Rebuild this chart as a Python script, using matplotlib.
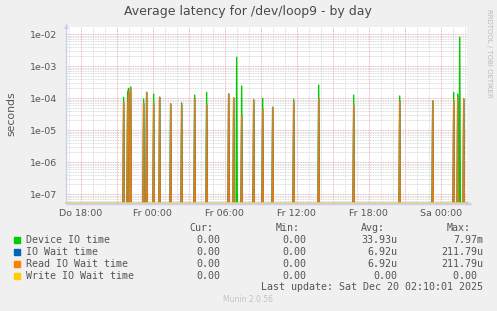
import matplotlib
matplotlib.use('Agg')
import matplotlib.pyplot as plt
from matplotlib.patches import Rectangle
import numpy as np

# ---------------- data ----------------
spike_times = ["Do 21:35", "Do 21:55", "Do 22:00", "Do 22:10", "Do 23:15", "Do 23:30",
               "Fr 00:05", "Fr 00:35", "Fr 01:30", "Fr 02:25", "Fr 03:30", "Fr 04:30",
               "Fr 06:20", "Fr 06:45", "Fr 07:00", "Fr 07:25", "Fr 08:25", "Fr 09:10",
               "Fr 10:00", "Fr 11:45", "Fr 13:50", "Fr 16:45", "Fr 20:35", "Fr 23:20",
               "Sa 01:05", "Sa 01:25", "Sa 01:35", "Sa 01:55"]
device_io = [1.05e-4, 1.44e-4, 2.0e-4, 2.2e-4, 9.3e-5, 1.5e-4,
             1.33e-4, 1.05e-4, 6.5e-5, 7.1e-5, 1.24e-4, 1.5e-4,
             1.33e-4, 1.0e-4, 1.87e-3, 2.37e-4, 8.7e-5, 9.8e-5,
             5.1e-5, 9.1e-5, 2.55e-4, 1.24e-4, 1.16e-4, 8.1e-5,
             1.5e-4, 1.33e-4, 7.97e-3, 9.3e-5]
read_io = [7.1e-5, 6.0e-5, 1.5e-4, 2.12e-4, 6.8e-5, 1.5e-4,
           6.8e-5, 1.05e-4, 6.5e-5, 6.0e-5, 9.3e-5, 6.0e-5,
           1.33e-4, 1.0e-4, 0.0, 2.9e-5, 8.7e-5, 4.4e-5,
           5.1e-5, 7.7e-5, 9.8e-5, 6.0e-5, 8.1e-5, 8.1e-5,
           7.7e-5, 1.1e-4, 0.0, 9.3e-5]
io_wait = list(read_io)
write_io = [0.0] * len(spike_times)

x_tick_labels = ["Do 18:00", "Fr 00:00", "Fr 06:00", "Fr 12:00", "Fr 18:00", "Sa 00:00"]
y_tick_labels = ["1e-07", "1e-06", "1e-05", "1e-04", "1e-03", "1e-02"]

legend_names = ["Device IO time", "IO Wait time", "Read IO Wait time", "Write IO Wait time"]
legend_colors = ["#00CC00", "#0066B3", "#FF8000", "#FFCC00"]
cur_vals = ["0.00", "0.00", "0.00", "0.00"]
min_vals = ["0.00", "0.00", "0.00", "0.00"]
avg_vals = ["33.93u", "6.92u", "6.92u", "0.00"]
max_vals = ["7.97m", "211.79u", "211.79u", "0.00 "]

# ---------------- helpers ----------------
DAY = {"Do": -24.0, "Fr": 0.0, "Sa": 24.0}
def to_hours(s):
    d, hm = s.split()
    h, m = hm.split(":")
    return DAY[d] + int(h) + int(m) / 60.0

W, H = 497, 311
def fx(x): return x / W
def fy(y): return 1 - y / H

t = np.arange(-7.25, 26.17 + 1e-9, 5 / 60.0)
def series(vals):
    s = np.zeros_like(t)
    for ts, v in zip(spike_times, vals):
        i = int(np.argmin(np.abs(t - to_hours(ts))))
        s[i] = v
    return np.where(s > 0, s, 1e-10)

fig = plt.figure(figsize=(W / 100, H / 100), dpi=100, facecolor="#F0F0F0")
ax = fig.add_axes([fx(66), fy(203), fx(467) - fx(66), fy(27) - fy(203)])
ax.set_facecolor("white")
ax.set_yscale("log")
xmin, xmax = -7.22, 26.19
ymin, ymax = 10 ** -7.28, 10 ** -1.78
ax.set_xlim(xmin, xmax)
ax.set_ylim(ymin, ymax)

# grid
minor_c = "#CFCFCF"
major_c = "#E4A0A0"
for h in np.arange(-7, 27, 1.0):
    if h % 3 == 0:
        continue
    ax.axvline(h, color=minor_c, lw=0.6, ls=(0, (1, 1)), zorder=0)
for h in np.arange(-6, 27, 3.0):
    ax.axvline(h, color=major_c, lw=0.6, ls=(0, (1, 1)), zorder=0.5)
for e in range(-8, -1):
    for m in range(2, 10):
        v = m * 10.0 ** e
        if ymin < v < ymax:
            ax.axhline(v, color=minor_c, lw=0.6, ls=(0, (1, 1)), zorder=0)
for e in range(-7, -1):
    ax.axhline(10.0 ** e, color=major_c, lw=0.6, ls=(0, (1, 1)), zorder=0.5)

# data lines
ax.plot(t, series(device_io), color=legend_colors[0], lw=1.0, zorder=2)
ax.plot(t, series(io_wait), color=legend_colors[1], lw=1.0, zorder=3)
ax.plot(t, series(read_io), color=legend_colors[2], lw=1.0, alpha=0.9, zorder=4)
ax.plot(t, series(write_io), color=legend_colors[3], lw=1.0, zorder=5)
ax.axhline(ymin, color="#E0C98A", lw=1.2, zorder=6, clip_on=False)

# ticks
ax.set_xticks([to_hours(s) for s in x_tick_labels])
ax.set_xticklabels(x_tick_labels)
ax.set_yticks([10.0 ** e for e in range(-7, -1)])
ax.set_yticklabels(y_tick_labels)
ax.minorticks_off()
ax.tick_params(length=0, labelsize=6.8, colors="#555555", pad=6)
ax.tick_params(axis="x", pad=4)
for s in ["top", "right"]:
    ax.spines[s].set_visible(False)
ax.spines["left"].set_color("#C8D0EE")
ax.spines["bottom"].set_visible(False)
ax.spines["left"].set_linewidth(1)

# axis arrows
fig.add_artist(plt.Line2D([fx(66), fx(471)], [fy(203.5), fy(203.5)], color="#C8D0EE", lw=1))
ax.annotate("", xy=(fx(474), fy(203.5)), xytext=(fx(466), fy(203.5)), xycoords="figure fraction",
            arrowprops=dict(arrowstyle="-|>", color="#C8D0EE", lw=0.8, mutation_scale=6))
ax.annotate("", xy=(fx(66.5), fy(21)), xytext=(fx(66.5), fy(28)), xycoords="figure fraction",
            arrowprops=dict(arrowstyle="-|>", color="#C8D0EE", lw=0.8, mutation_scale=6))

# texts
fig.text(fx(248), fy(12), "Average latency for /dev/loop9 - by day", ha="center", va="center",
         fontsize=9, color="#4A4A4A")
fig.text(fx(11), fy(114), "seconds", rotation=90, ha="center", va="center", fontsize=7.8, color="#555555")
fig.text(fx(489), fy(53), "RRDTOOL / TOBI OETIKER", rotation=270, ha="center", va="center",
         fontsize=5, color="#BBBBBB")

mono = dict(family="DejaVu Sans Mono", fontsize=7.2, color="#555555", va="center")
fig.text(fx(213.5), fy(228), "Cur:", ha="right", **mono)
fig.text(fx(299.5), fy(228), "Min:", ha="right", **mono)
fig.text(fx(384.5), fy(228), "Avg:", ha="right", **mono)
fig.text(fx(470.5), fy(228), "Max:", ha="right", **mono)
for i, name in enumerate(legend_names):
    y = 240 + 12 * i
    fig.add_artist(Rectangle((fx(14), fy(y + 2.7)), fx(5.5), 5.5 / H, color=legend_colors[i]))
    fig.text(fx(26), fy(y), name, ha="left", **mono)
    fig.text(fx(220), fy(y), cur_vals[i], ha="right", **mono)
    fig.text(fx(306), fy(y), min_vals[i], ha="right", **mono)
    fig.text(fx(397), fy(y), avg_vals[i], ha="right", **mono)
    fig.text(fx(483), fy(y), max_vals[i], ha="right", **mono)
fig.text(fx(483), fy(287), "Last update: Sat Dec 20 02:10:01 2025", ha="right", **mono)
fig.text(fx(248), fy(300), "Munin 2.0.56", ha="center", va="center", fontsize=5.5, color="#C4C4C4")

fig.savefig("out.png", dpi=100, facecolor=fig.get_facecolor())
